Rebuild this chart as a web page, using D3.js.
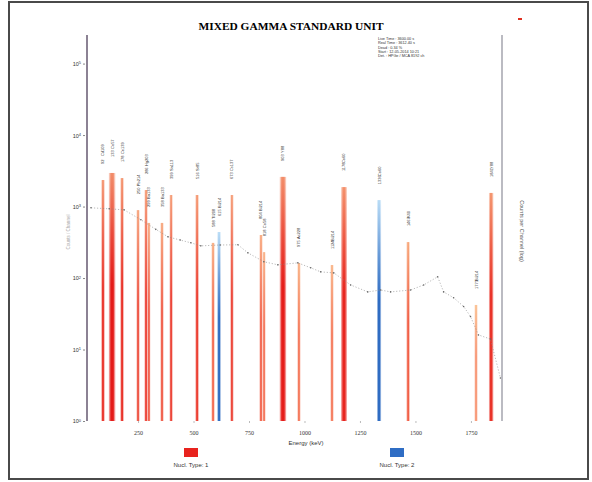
<!DOCTYPE html>
<html>
<head>
<meta charset="utf-8">
<script src="https://cdn.jsdelivr.net/npm/d3@7"></script>
<style>
  body { margin: 0; background: #fff; }
  svg { display: block; font-family: "Liberation Sans", Arial, sans-serif; }
  .title { font-family: "Liberation Serif", serif; font-weight: bold; font-size: 11px; }
  .tick text { fill: #333; }
</style>
</head>
<body>
<svg width="592" height="482"></svg>
<script>
// peaks (energy in keV, counts at the peak top)
const peakEnergy = [92, 133, 178, 250, 286, 299, 358, 399, 516, 588, 615, 673, 804, 818, 903, 975, 1124, 1178, 1336, 1467, 1773, 1841]
const peakCounts = [2350, 2950, 2500, 890, 1700, 590, 590, 1450, 1450, 310, 440, 1450, 400, 230, 2600, 162, 152, 1870, 1230, 318, 42, 1550]
const peakFwhm = [11, 22, 11, 10, 10, 9, 10, 10, 11, 10, 12, 10, 10, 9, 22, 10, 10, 20, 14, 11, 10, 15]
const peakType = [1, 1, 1, 1, 1, 1, 1, 1, 1, 1, 2, 1, 1, 1, 1, 1, 1, 1, 2, 1, 1, 1]
const peakNuclide = ['Cd109', 'Co57', 'Ce139', 'Pb214', 'Hg203', 'Ba133', 'Ba133', 'Sn113', 'Sr85', 'Tl208', 'Bi214',
  'Cs137', 'Bi214', 'Co58', 'Y88', 'Ac228', 'Bi214', 'Co60', 'Co60', 'K40', 'Bi214', 'Y88']

// background continuum
const bgEnergy = [38, 120, 187, 263, 330, 385, 440, 488, 533, 620, 700, 745, 817, 880, 970, 1028, 1073, 1132, 1208,
  1285, 1343, 1388, 1478, 1537, 1600, 1627, 1672, 1717, 1748, 1784, 1838, 1883]
const bgCounts = [960, 930, 900, 653, 480, 377, 340, 311, 282, 290, 292, 225, 169, 153, 163, 139, 122, 118, 80,
  64, 68, 64, 68, 80, 104, 64, 53, 40, 29, 16, 14, 4]

const yTicks = [1, 10, 100, 1000, 10000, 100000]
const yExp = ['0', '1', '2', '3', '4', '5']
const xTicks = [250, 500, 750, 1000, 1250, 1500, 1750]

const infoLines = ['Live Time :  3600.00 s', 'Real Time :  3612.40 s', 'Dead    :    0.34 %',
  'Start :  12-05-2014  10:21', 'Det.  :  HPGe  /  MCA 8192 ch']

const svg = d3.select('svg')

// outer frame
svg.append('rect')
  .attr('x', 9).attr('y', 2)
  .attr('width', 579).attr('height', 477)
  .attr('fill', 'none').attr('stroke', '#4a4a4a').attr('stroke-width', 2)

const plot = { left: 87, right: 502, top: 35, bottom: 421 }

const x = d3.scaleLinear().domain([20, 1890]).range([plot.left, plot.right])
const y = d3.scaleLog().domain([1, Math.pow(10, 5.4)]).range([plot.bottom, plot.top])

const peaks = peakEnergy.map((e, i) => ({
  e, c: peakCounts[i], w: peakFwhm[i], type: peakType[i], nuc: peakNuclide[i]
}))

// colour of type 1 peaks goes from pale to red with peak area
const area = d3.scaleLinear()
  .domain(d3.extent(peaks.filter(p => p.type === 1), p => Math.log10(p.c * p.w)))
  .range([0.3, 1]).clamp(true)
const redTone = d3.interpolateRgbBasis(['#fcc6ae', '#f78c62', '#f05440', '#e41a18'])
const baseColor = p => p.type === 2 ? '#2f6cc2' : redTone(area(Math.log10(p.c * p.w)))
const topColor = p => p.type === 2 ? '#b9dcf6' : d3.interpolateRgb(baseColor(p), '#fcd9a0')(0.6)

const defs = svg.append('defs')
peaks.forEach((p, i) => {
  const g = defs.append('linearGradient')
    .attr('id', 'pk' + i)
    .attr('x1', 0).attr('y1', 0).attr('x2', 0).attr('y2', 1)
  g.append('stop').attr('offset', 0).attr('stop-color', topColor(p))
  g.append('stop').attr('offset', 0.25).attr('stop-color', d3.interpolateRgb(topColor(p), baseColor(p))(0.6))
  g.append('stop').attr('offset', 0.45).attr('stop-color', baseColor(p))
  g.append('stop').attr('offset', 1).attr('stop-color', baseColor(p))
})

const pxPerKev = x(1000) - x(999)

// light halo then the core of each peak
svg.append('g').selectAll('rect').data(peaks)
  .enter().append('rect')
    .attr('x', d => x(d.e) - d.w * pxPerKev * 0.65)
    .attr('y', d => y(d.c))
    .attr('width', d => d.w * pxPerKev * 1.3)
    .attr('height', d => plot.bottom - y(d.c))
    .attr('fill', (d, i) => `url(#pk${i})`)
    .attr('opacity', 0.5)

svg.append('g').selectAll('rect').data(peaks)
  .enter().append('rect')
    .attr('x', d => x(d.e) - d.w * pxPerKev * 0.36)
    .attr('y', d => y(d.c))
    .attr('width', d => d.w * pxPerKev * 0.72)
    .attr('height', d => plot.bottom - y(d.c))
    .attr('fill', (d, i) => `url(#pk${i})`)

// peak labels (rotated, tiny)
const lab = svg.append('g').attr('font-size', 4).attr('fill', '#333')
peaks.forEach(p => {
  const px = x(p.e) + 1.5, py = y(p.c) - 16
  lab.append('text')
    .attr('transform', `translate(${px},${py}) rotate(-90)`)
    .text(Math.round(p.e))
  lab.append('text')
    .attr('transform', `translate(${px},${py - 8}) rotate(-90)`)
    .text(p.nuc)
})

// background continuum
const bg = bgEnergy.map((e, i) => ({ e, c: bgCounts[i] }))
svg.append('path')
  .datum(bg)
  .attr('fill', 'none')
  .attr('stroke', '#8a8a8a')
  .attr('stroke-width', 0.6)
  .attr('stroke-dasharray', '1.2,1.8')
  .attr('d', d3.line().x(d => x(d.e)).y(d => y(d.c)))
svg.append('g').selectAll('circle').data(bg)
  .enter().append('circle')
    .attr('cx', d => x(d.e)).attr('cy', d => y(d.c))
    .attr('r', 0.8).attr('fill', '#666')

// axes lines
svg.append('line')
  .attr('x1', plot.left).attr('x2', plot.left).attr('y1', plot.top).attr('y2', plot.bottom)
  .attr('stroke', '#8c8294').attr('stroke-width', 2)
svg.append('line')
  .attr('x1', plot.right).attr('x2', plot.right).attr('y1', plot.top).attr('y2', plot.bottom)
  .attr('stroke', '#b4b4bc').attr('stroke-width', 1.8)

// y axis labels
const yAxisG = svg.append('g')
  .attr('transform', `translate(${plot.left - 2},0)`)
  .call(d3.axisLeft(y).tickValues(yTicks).tickSize(2).tickFormat(() => ''))
yAxisG.select('.domain').remove()
yAxisG.selectAll('.tick line').attr('stroke', '#888')
yAxisG.selectAll('.tick').each(function (d, i) {
  const t = d3.select(this).append('text')
    .attr('x', -4).attr('dy', '0.35em')
    .attr('text-anchor', 'end')
    .attr('font-size', 5.5).attr('fill', '#333')
  t.append('tspan').text('10')
  t.append('tspan').attr('dy', '-0.4em').attr('font-size', 4).text(yExp[i])
})

// x axis
const xAxisG = svg.append('g')
  .attr('transform', `translate(0,${plot.bottom})`)
  .call(d3.axisBottom(x).tickValues(xTicks).tickSize(2).tickPadding(8).tickFormat(d3.format('d')))
xAxisG.select('.domain').remove()
xAxisG.selectAll('.tick line').attr('stroke', '#bbb')
xAxisG.selectAll('.tick text').attr('font-size', 6).attr('font-family', '"Liberation Serif", serif')

svg.append('text')
  .attr('x', 306).attr('y', 445)
  .attr('text-anchor', 'middle')
  .attr('font-size', 6).attr('fill', '#333')
  .text('Energy (keV)')

// axis titles
svg.append('text')
  .attr('transform', `translate(520,231) rotate(90)`)
  .attr('text-anchor', 'middle')
  .attr('font-size', 5.5).attr('fill', '#555')
  .text('Counts  per  Channel  (log)')
svg.append('text')
  .attr('transform', `translate(70,232) rotate(-90)`)
  .attr('text-anchor', 'middle')
  .attr('font-size', 4.5).attr('fill', '#aaa')
  .text('Counts / Channel')

// title
svg.append('text')
  .attr('class', 'title')
  .attr('x', 291).attr('y', 30)
  .attr('text-anchor', 'middle')
  .attr('textLength', 185)
  .attr('lengthAdjust', 'spacingAndGlyphs')
  .text('MIXED GAMMA STANDARD UNIT')

// info block
svg.append('g').selectAll('text').data(infoLines)
  .enter().append('text')
    .attr('x', 378).attr('y', (d, i) => 40 + i * 4.3)
    .attr('font-size', 3.8).attr('fill', '#333')
    .text(d => d)

svg.append('rect')
  .attr('x', 518).attr('y', 18).attr('width', 4).attr('height', 2)
  .attr('fill', '#e03020')

// legend
const legend = [{ label: 'Nucl. Type: 1', color: '#e8231e', cx: 191 },
  { label: 'Nucl. Type: 2', color: '#2f6dc4', cx: 397 }]
const lg = svg.append('g').selectAll('g').data(legend).enter().append('g')
lg.append('rect')
  .attr('x', d => d.cx - 7).attr('y', 448)
  .attr('width', 14).attr('height', 9)
  .attr('fill', d => d.color)
lg.append('text')
  .attr('x', d => d.cx).attr('y', 467)
  .attr('text-anchor', 'middle')
  .attr('font-size', 6).attr('fill', '#333')
  .text(d => d.label)
</script>
</body>
</html>
